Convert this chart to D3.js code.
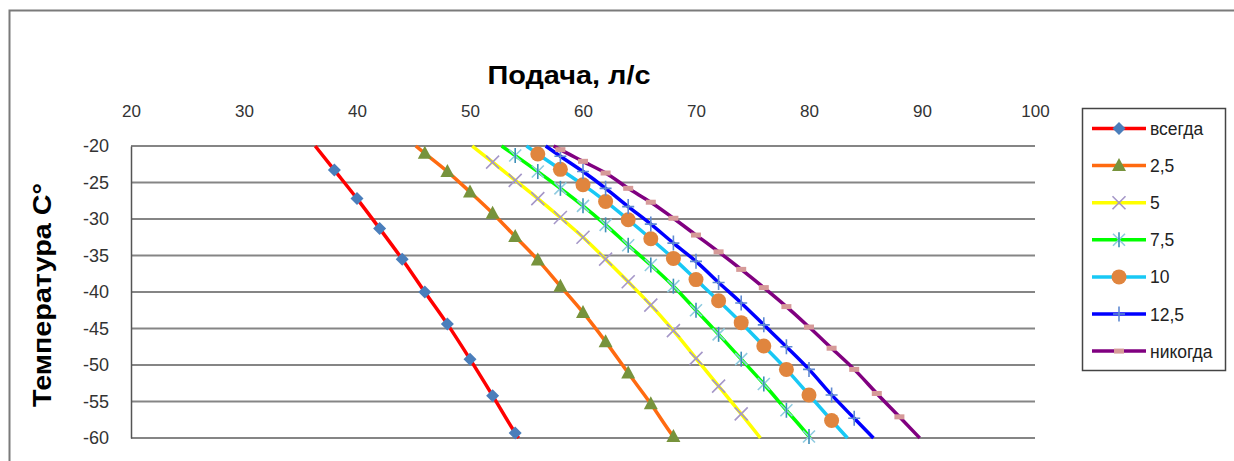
<!DOCTYPE html>
<html>
<head>
<meta charset="utf-8">
<script src="https://cdn.jsdelivr.net/npm/d3@7"></script>
<style>
  html, body { margin: 0; padding: 0; background: #ffffff; }
  svg { display: block; font-family: "Liberation Sans", Arial, sans-serif; }
</style>
</head>
<body>
<svg id="chart" width="1234" height="461"></svg>
<script>
// ---- data ----
const seriesNames = ["всегда", "2,5", "5", "7,5", "10", "12,5", "никогда"];
const xTicks = [20, 30, 40, 50, 60, 70, 80, 90, 100];
const yTicks = [-20, -25, -30, -35, -40, -45, -50, -55, -60];

// marker points: flow (x) and temperature (y)
const flowAlways = [38, 40, 42, 44, 46, 48, 50, 52, 54];
const tempAlways = [-23.3, -27.2, -31.3, -35.5, -40.0, -44.4, -49.2, -54.2, -59.3];

const flow25 = [46, 48, 50, 52, 54, 56, 58, 60, 62, 64, 66, 68];
const temp25 = [-21.0, -23.5, -26.3, -29.2, -32.4, -35.6, -39.2, -42.8, -46.8, -51.1, -55.3, -59.8];

const flow5 = [52, 54, 56, 58, 60, 62, 64, 66, 68, 70, 72, 74];
const temp5 = [-22.2, -24.7, -27.2, -29.8, -32.5, -35.5, -38.6, -41.8, -45.3, -49.1, -52.9, -56.7];

const flow75 = [54, 56, 58, 60, 62, 64, 66, 68, 70, 72, 74, 76, 78, 80];
const temp75 = [-21.3, -23.5, -25.8, -28.2, -30.8, -33.6, -36.3, -39.2, -42.5, -45.8, -49.2, -52.6, -56.2, -59.8];

const flow10 = [56, 58, 60, 62, 64, 66, 68, 70, 72, 74, 76, 78, 80, 82];
const temp10 = [-21.1, -23.2, -25.3, -27.6, -30.1, -32.7, -35.4, -38.3, -41.2, -44.2, -47.4, -50.6, -54.1, -57.6];

const flow125 = [58, 60, 62, 64, 66, 68, 70, 72, 74, 76, 78, 80, 82, 84];
const temp125 = [-21.4, -23.5, -25.8, -28.3, -30.7, -33.3, -35.8, -38.7, -41.5, -44.5, -47.5, -50.6, -54.1, -57.3];

const flowNever = [58, 60, 62, 64, 66, 68, 70, 72, 74, 76, 78, 80, 82, 84, 86, 88];
const tempNever = [-20.5, -22.1, -23.7, -25.8, -27.7, -29.9, -32.2, -34.5, -36.9, -39.4, -42.0, -44.8, -47.7, -50.6, -53.9, -57.1];

// flow where each curve meets the top (-20) and bottom (-60) of the axis
const flowAtTop = [36.3, 45.2, 50.2, 52.8, 55.0, 56.7, 57.4];
const flowAtBottom = [54.3, 68.1, 75.7, 80.1, 83.4, 85.7, 89.8];

// ---- styles ----
const lineColors = ["#ff0000", "#ff6a10", "#ffff00", "#00ff00", "#18c8f5", "#0000ff", "#800080"];
const markerTypes = ["diamond", "triangle", "x", "asterisk", "circle", "plus", "dash"];
const markerColors = ["#4a7ebb", "#77933c", "#a597c8", "#4bacc6", "#e0853e", "#5f8ad2", "#d69a98"];

const flows = [flowAlways, flow25, flow5, flow75, flow10, flow125, flowNever];
const temps = [tempAlways, temp25, temp5, temp75, temp10, temp125, tempNever];

const series = seriesNames.map((name, i) => ({
  name,
  color: lineColors[i],
  marker: markerTypes[i],
  mcolor: markerColors[i],
  points: flows[i].map((f, j) => ({ x: f, y: temps[i][j] })),
  line: [{ x: flowAtTop[i], y: -20 }]
    .concat(flows[i].map((f, j) => ({ x: f, y: temps[i][j] })))
    .concat([{ x: flowAtBottom[i], y: -60 }])
}));

// ---- layout ----
const svg = d3.select("#chart");
const W = 1234, H = 461;
const plot = { left: 131, right: 1035, top: 146, bottom: 438 };

const x = d3.scaleLinear().domain([20, 100]).range([plot.left, plot.right]);
const y = d3.scaleLinear().domain([-20, -60]).range([plot.top, plot.bottom]);

svg.append("rect").attr("width", W).attr("height", H).attr("fill", "#ffffff");

// outer frame
svg.append("path")
  .attr("d", `M9.5,${H} V10.5 H${W}`)
  .attr("fill", "none").attr("stroke", "#7a7a7a").attr("stroke-width", 2);

// gridlines
svg.append("g")
  .selectAll("line").data(yTicks).join("line")
  .attr("x1", plot.left).attr("x2", plot.right)
  .attr("y1", d => y(d)).attr("y2", d => y(d))
  .attr("stroke", "#858585").attr("stroke-width", 2);

// left axis
const yAxis = d3.axisLeft(y).tickValues(yTicks).tickSize(0).tickPadding(0).tickFormat(d => d);
const gy = svg.append("g").attr("transform", `translate(${plot.left},0)`).call(yAxis);
gy.select(".domain").attr("stroke", "#555").attr("stroke-width", 1.5);
gy.selectAll("text")
  .attr("x", -22)
  .attr("font-size", 18).attr("fill", "#333")
  .attr("font-family", "'Liberation Sans', Arial, sans-serif");

// top axis
const xAxis = d3.axisTop(x).tickValues(xTicks).tickSize(0).tickPadding(0).tickFormat(d => d);
const gx = svg.append("g").attr("transform", `translate(0,${plot.top})`).call(xAxis);
gx.select(".domain").remove();
gx.selectAll("text")
  .attr("y", -29)
  .attr("font-size", 17).attr("fill", "#333")
  .attr("font-family", "'Liberation Sans', Arial, sans-serif");

// titles
svg.append("text")
  .attr("x", 569).attr("y", 84)
  .attr("text-anchor", "middle")
  .attr("font-size", 25).attr("font-weight", "bold").attr("fill", "#000")
  .attr("textLength", 163).attr("lengthAdjust", "spacingAndGlyphs")
  .text("Подача, л/с");

svg.append("text")
  .attr("transform", "translate(51,295) rotate(-90)")
  .attr("text-anchor", "middle")
  .attr("font-size", 25).attr("font-weight", "bold").attr("fill", "#000")
  .attr("textLength", 224).attr("lengthAdjust", "spacingAndGlyphs")
  .text("Температура С°");

// marker drawing
function drawMarker(g, type, color) {
  switch (type) {
    case "diamond":
      g.append("path").attr("d", "M0,-6.5L6.5,0L0,6.5L-6.5,0Z").attr("fill", color);
      break;
    case "triangle":
      g.append("path").attr("d", "M0,-7.5L7,5.5L-7,5.5Z").attr("fill", color);
      break;
    case "x":
      g.append("path").attr("d", "M-6.5,-6.5L6.5,6.5M-6.5,6.5L6.5,-6.5")
        .attr("stroke", color).attr("stroke-width", 1.6).attr("fill", "none");
      break;
    case "asterisk":
      g.append("path").attr("d", "M-6,-6L6,6M-6,6L6,-6")
        .attr("stroke", "#8fcbe0").attr("stroke-width", 1.6).attr("fill", "none");
      g.append("path").attr("d", "M0,-7.5L0,7.5")
        .attr("stroke", "#3d8fb8").attr("stroke-width", 1.6).attr("fill", "none");
      break;
    case "circle":
      g.append("circle").attr("r", 7.5).attr("fill", color);
      break;
    case "plus":
      g.append("path").attr("d", "M0,-7.5L0,7.5M-6,0L6,0")
        .attr("stroke", color).attr("stroke-width", 1.6).attr("fill", "none");
      break;
    case "dash":
      g.append("rect").attr("x", -5).attr("y", -2.5).attr("width", 10).attr("height", 5).attr("fill", color);
      break;
  }
}

const lineGen = d3.line().x(d => x(d.x)).y(d => y(d.y)).curve(d3.curveMonotoneY);

const seriesG = svg.append("g");
series.forEach(s => {
  seriesG.append("path")
    .datum(s.line)
    .attr("d", lineGen)
    .attr("fill", "none")
    .attr("stroke", s.color)
    .attr("stroke-width", 3.5)
    .attr("stroke-linejoin", "round");
});
series.forEach(s => {
  s.points.forEach(p => {
    const g = seriesG.append("g").attr("transform", `translate(${x(p.x)},${y(p.y)})`);
    drawMarker(g, s.marker, s.mcolor);
  });
});

// legend
const legend = svg.append("g");
legend.append("rect")
  .attr("x", 1082.5).attr("y", 108.5).attr("width", 143).attr("height", 262)
  .attr("fill", "#fff").attr("stroke", "#444").attr("stroke-width", 1.5);
series.forEach((s, i) => {
  const cy = 128.5 + i * 37.1;
  const g = legend.append("g").attr("transform", `translate(0,${cy})`);
  g.append("line").attr("x1", 1092).attr("x2", 1146).attr("y1", 0).attr("y2", 0)
    .attr("stroke", s.color).attr("stroke-width", 3.5);
  const mg = g.append("g").attr("transform", "translate(1119,0)");
  drawMarker(mg, s.marker, s.mcolor);
  g.append("text").attr("x", 1150).attr("y", 6.5)
    .attr("font-size", 17.5).attr("fill", "#222")
    .text(s.name);
});
</script>
</body>
</html>
